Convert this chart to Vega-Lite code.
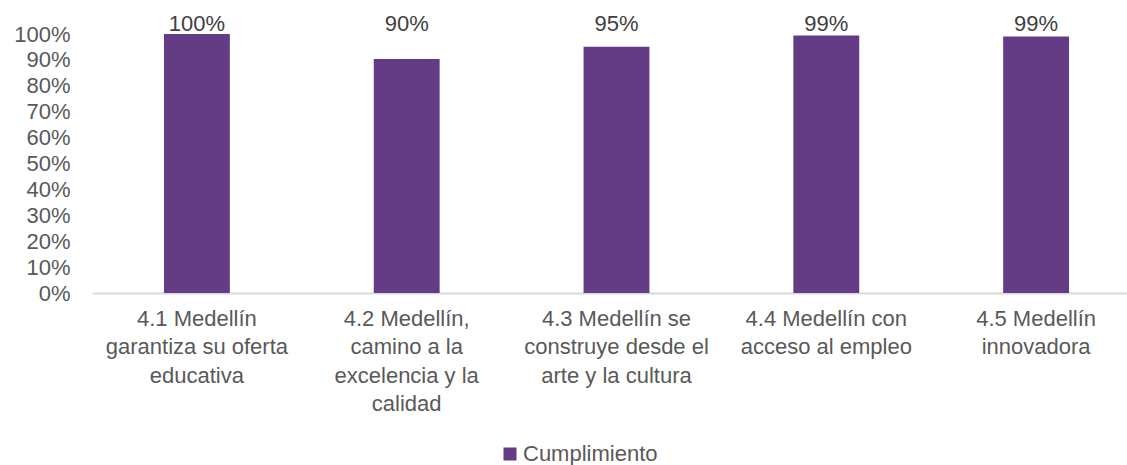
{
  "$schema": "https://vega.github.io/schema/vega-lite/v6.json",
  "width": 1049,
  "height": 259,
  "autosize": {"type": "none"},
  "padding": {"left": 92, "top": 34, "right": 0, "bottom": 172},
  "background": "white",
  "config": {
    "view": {"stroke": null},
    "font": "Liberation Sans"
  },
  "data": {
    "values": [
      {"eje": "4.1 Medellín|garantiza su oferta|educativa", "valor": 1.0, "serie": "Cumplimiento"},
      {"eje": "4.2 Medellín,|camino a la|excelencia y la|calidad", "valor": 0.903, "serie": "Cumplimiento"},
      {"eje": "4.3 Medellín se|construye desde el|arte y la cultura", "valor": 0.951, "serie": "Cumplimiento"},
      {"eje": "4.4 Medellín con|acceso al empleo", "valor": 0.994, "serie": "Cumplimiento"},
      {"eje": "4.5 Medellín|innovadora", "valor": 0.99, "serie": "Cumplimiento"}
    ]
  },
  "resolve": {"axis": {"y": "independent"}},
  "encoding": {
    "x": {
      "field": "eje",
      "type": "nominal",
      "sort": null,
      "scale": {"paddingInner": 0.686, "paddingOuter": 0.343},
      "axis": {
        "title": null,
        "labelAngle": 0,
        "labelExpr": "split(datum.label, '|')",
        "labelFont": "Liberation Sans",
        "labelFontSize": 22,
        "labelColor": "#595959",
        "labelLineHeight": 28.5,
        "labelPadding": 15,
        "labelLimit": 400,
        "ticks": false,
        "domainColor": "#D9D9D9",
        "domainWidth": 2,
        "grid": false
      }
    }
  },
  "layer": [
    {
      "mark": {"type": "bar", "color": "#643B85"},
      "encoding": {
        "y": {
          "field": "valor",
          "type": "quantitative",
          "scale": {"domain": [0, 1], "nice": false},
          "axis": {
            "title": null,
            "format": ".0%",
            "values": [0, 0.1, 0.2, 0.3, 0.4, 0.5, 0.6, 0.7, 0.8, 0.9, 1.0],
            "labelFont": "Liberation Sans",
            "labelFontSize": 22,
            "labelColor": "#595959",
            "labelPadding": 22,
            "ticks": false,
            "domain": false,
            "grid": false
          }
        },
        "color": {
          "field": "serie",
          "type": "nominal",
          "scale": {"range": ["#643B85"]},
          "legend": {
            "title": null,
            "orient": "none",
            "legendX": 407,
            "legendY": 409,
            "symbolType": "square",
            "symbolSize": 169,
            "symbolStrokeWidth": 0,
            "labelFont": "Liberation Sans",
            "labelFontSize": 22,
            "labelColor": "#595959",
            "labelOffset": 2
          }
        }
      }
    },
    {
      "mark": {"type": "text", "baseline": "alphabetic", "dy": -3, "font": "Liberation Sans", "fontSize": 22, "color": "#404040"},
      "encoding": {
        "y": {"datum": 1, "type": "quantitative", "axis": null},
        "text": {"field": "valor", "type": "quantitative", "format": ".0%"}
      }
    }
  ]
}
